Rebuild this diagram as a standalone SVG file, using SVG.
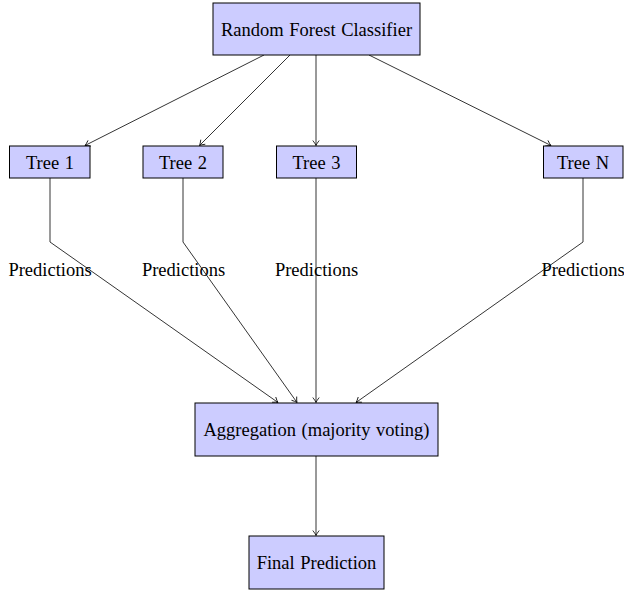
<svg xmlns="http://www.w3.org/2000/svg" width="624" height="592" viewBox="0 0 624 592">
<defs>
<marker id="arr" viewBox="-6 -4 7 8" refX="0" refY="0" markerWidth="7" markerHeight="8" markerUnits="userSpaceOnUse" orient="auto">
<path d="M-5,-3.2 Q-2,-0.8 0,0 Q-2,0.8 -5,3.2" fill="none" stroke="#000" stroke-width="0.8"/>
</marker>
<style>
.box{fill:#ccccff;stroke:#000;stroke-width:1}
.t{font-family:"Liberation Serif","Times New Roman",serif;font-size:18.5px;fill:#000;text-anchor:middle;word-spacing:1px}
.c{fill:none;stroke:#000;stroke-width:0.8}
.a{marker-end:url(#arr)}
</style>
</defs>
<g id="connectors">
<line class="c a" x1="264" y1="55" x2="85" y2="145.5"/>
<line class="c a" x1="290" y1="55" x2="199.5" y2="145.5"/>
<line class="c a" x1="316" y1="55" x2="316" y2="145.5"/>
<line class="c a" x1="369" y1="55" x2="551" y2="145.5"/>
<polyline class="c a" points="50,178 50,242 278,402.5"/>
<polyline class="c a" points="183,178 183,242 297,402.5"/>
<line class="c a" x1="316" y1="178" x2="316" y2="402.5"/>
<polyline class="c a" points="583,178 583,242 356,402.5"/>
<line class="c a" x1="316" y1="456" x2="316" y2="535.5"/>
</g>
<g id="rf"><rect class="box" x="213" y="3" width="207" height="52"/><text class="t" x="316.5" y="35.5">Random Forest Classifier</text></g>
<g id="tree1"><rect class="box" x="9.5" y="146" width="80.5" height="32"/><text class="t" x="50" y="168.5">Tree 1</text></g>
<g id="tree2"><rect class="box" x="143" y="146" width="80" height="32"/><text class="t" x="183" y="168.5">Tree 2</text></g>
<g id="tree3"><rect class="box" x="276.5" y="146" width="80" height="32"/><text class="t" x="316.5" y="168.5">Tree 3</text></g>
<g id="treeN"><rect class="box" x="543.5" y="146" width="79.5" height="32"/><text class="t" x="583" y="168.5">Tree N</text></g>
<g id="pred1"><text class="t" x="50" y="276">Predictions</text></g>
<g id="pred2"><text class="t" x="183.5" y="276">Predictions</text></g>
<g id="pred3"><text class="t" x="316.5" y="276">Predictions</text></g>
<g id="predN"><text class="t" x="583" y="276">Predictions</text></g>
<g id="agg"><rect class="box" x="195" y="403" width="243" height="53"/><text class="t" x="316.5" y="435.5">Aggregation (majority voting)</text></g>
<g id="final"><rect class="box" x="249" y="536" width="135" height="53"/><text class="t" x="316.5" y="568.5">Final Prediction</text></g>
</svg>
